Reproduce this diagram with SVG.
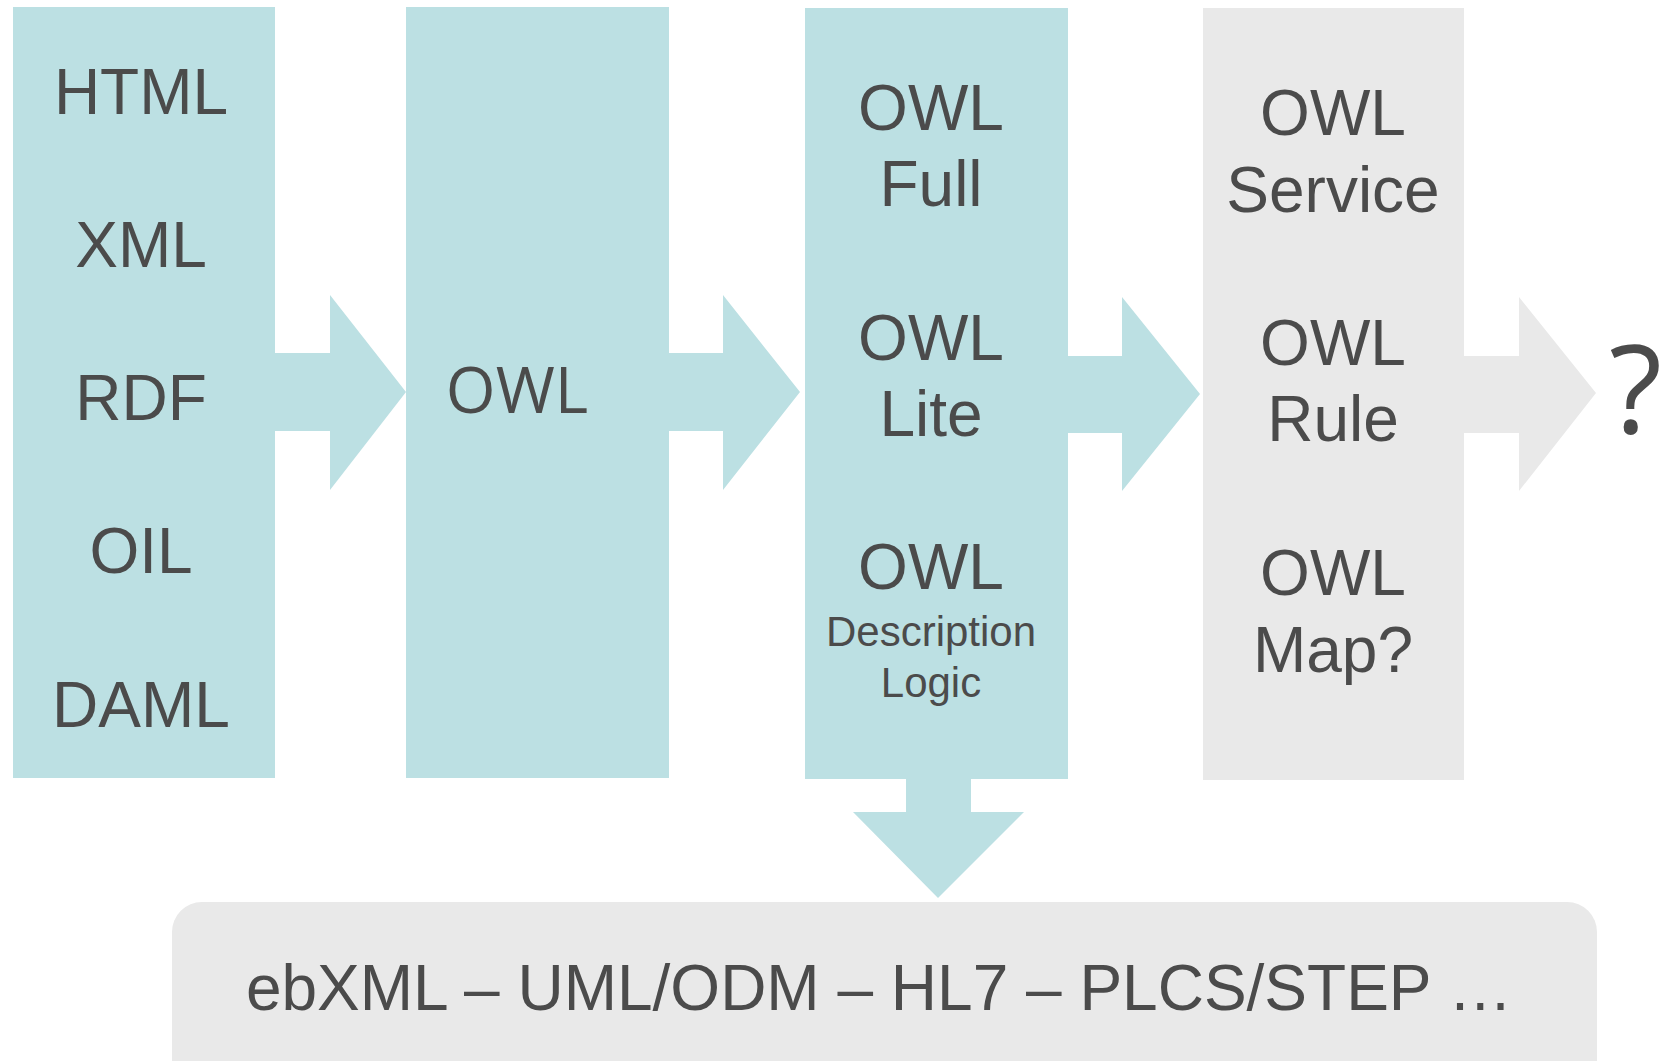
<svg xmlns="http://www.w3.org/2000/svg" width="1659" height="1061" viewBox="0 0 1659 1061">
<style>
.teal{fill:#bce0e3}
.gray{fill:#e9e9e9}
.t{font-family:"Liberation Sans",Arial,sans-serif;fill:#4b4b4b;text-anchor:middle}
.big{font-size:64px}
.small{font-size:42px}
.os{font-family:"Open Sans","Noto Sans",sans-serif;fill:#4b4b4b}
</style>
<rect width="1659" height="1061" fill="#ffffff"/>
<g id="connectors">
<polygon class="teal" points="275,353 330,353 330,295 406,392 330,490 330,431 275,431"/>
<polygon class="teal" points="669,353 723,353 723,295 800,392 723,490 723,431 669,431"/>
<polygon class="teal" points="1068,356 1122,356 1122,297 1200,394 1122,491 1122,433 1068,433"/>
<polygon class="gray" points="1464,356 1519,356 1519,297 1596,393 1519,491 1519,433 1464,433"/>
<polygon class="teal" points="906,779 971,779 971,812 1024,812 938,898 853,812 906,812"/>
</g>
<g id="node-legacy">
<rect class="teal" x="13" y="7" width="262" height="771"/>
<text class="t big" x="141" y="114">HTML</text>
<text class="t big" x="141" y="267">XML</text>
<text class="t big" x="141" y="420">RDF</text>
<text class="t big" x="141" y="573">OIL</text>
<text class="t big" x="141" y="727">DAML</text>
</g>
<g id="node-owl">
<rect class="teal" x="406" y="7" width="263" height="771"/>
<text class="os" x="517" y="413" font-size="64" text-anchor="middle">OWL</text>
</g>
<g id="node-owl-variants">
<rect class="teal" x="805" y="8" width="263" height="771"/>
<text class="t big" x="931" y="130">OWL</text>
<text class="t big" x="931" y="206">Full</text>
<text class="t big" x="931" y="360">OWL</text>
<text class="t big" x="931" y="436">Lite</text>
<text class="t big" x="931" y="589">OWL</text>
<text class="t small" x="931" y="646">Description</text>
<text class="t small" x="931" y="697">Logic</text>
</g>
<g id="node-future">
<rect class="gray" x="1203" y="8" width="261" height="772"/>
<text class="t big" x="1333" y="135">OWL</text>
<text class="t big" x="1333" y="212">Service</text>
<text class="t big" x="1333" y="365">OWL</text>
<text class="t big" x="1333" y="441">Rule</text>
<text class="t big" x="1333" y="595">OWL</text>
<text class="t big" x="1333" y="672">Map?</text>
</g>
<g id="node-unknown">
<text class="os" x="1609" y="433" font-size="123">?</text>
</g>
<g id="node-applications">
<rect class="gray" x="172" y="902" width="1425" height="200" rx="30" ry="30"/>
<text class="t big" x="879" y="1010">ebXML – UML/ODM – HL7 – PLCS/STEP …</text>
</g>
</svg>
